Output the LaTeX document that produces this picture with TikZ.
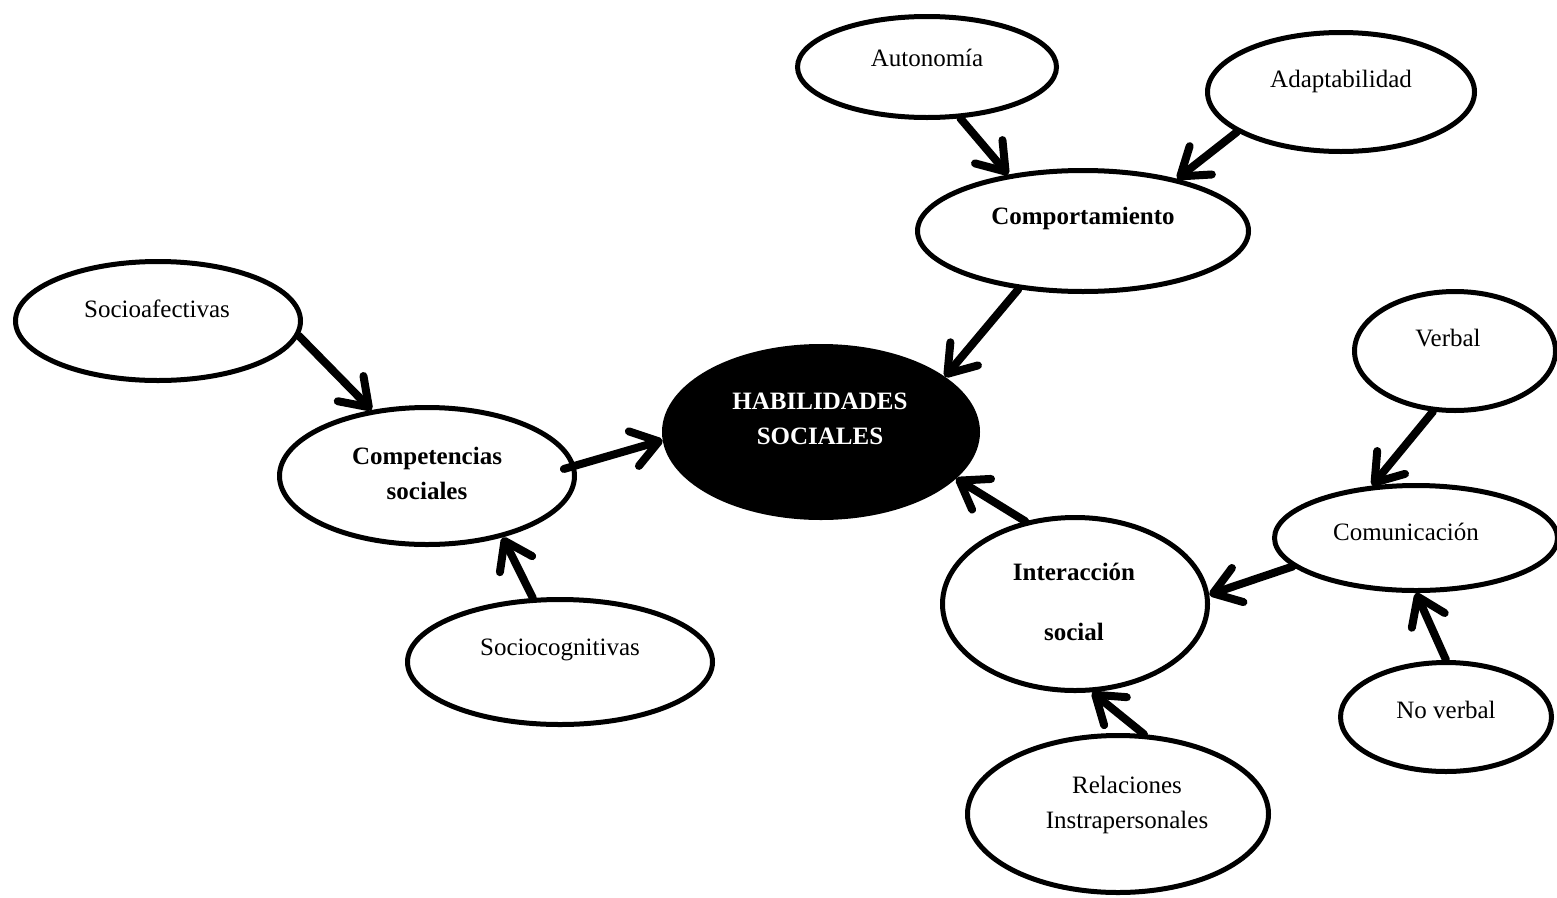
\documentclass[tikz,border=0pt]{standalone}
\usepackage{fontspec}
\setmainfont{Liberation Serif}
\usetikzlibrary{shapes.geometric,arrows.meta}
\begin{document}
\begin{tikzpicture}[x=1pt,y=-1pt,
  ell/.style={ellipse,draw=black,line width=5pt,fill=white,inner sep=0pt},
  txt/.style={inner sep=0pt,align=center,font=\fontsize{25}{35}\selectfont},
  btxt/.style={txt,font=\fontsize{25}{35}\selectfont\bfseries},
  arr/.style={line width=8pt,line cap=round,-{Straight Barb[length=26pt,width=36pt,round]}}]
\useasboundingbox[fill=white] (0,0) rectangle (1557,897);
% ellipses
\node[ell,minimum width=259pt,minimum height=101pt] (auto) at (927,67) {};
\node[ell,minimum width=267pt,minimum height=119pt] (adap) at (1341,92) {};
\node[ell,minimum width=331pt,minimum height=121pt] (comp) at (1083,231) {};
\node[ell,minimum width=285pt,minimum height=119pt] (socaf) at (158,321) {};
\node[ell,fill=black,minimum width=313pt,minimum height=171pt] (hab) at (821,432) {};
\node[ell,minimum width=295pt,minimum height=137pt] (compet) at (427,476) {};
\node[ell,minimum width=305pt,minimum height=125pt] (soccog) at (560,662) {};
\node[ell,minimum width=265pt,minimum height=173pt] (inter) at (1075,604) {};
\node[ell,minimum width=301pt,minimum height=157pt] (rel) at (1118,814) {};
\node[ell,minimum width=201pt,minimum height=119pt] (verbal) at (1455,351) {};
\node[ell,minimum width=283pt,minimum height=105pt] (comun) at (1416,538) {};
\node[ell,minimum width=211pt,minimum height=109pt] (nover) at (1446,717) {};
% texts
\node[txt] (autoT) at (927,58) {Autonomía};
\node[txt] (adapT) at (1341,81) {Adaptabilidad};
\node[btxt] (compT) at (1083,218) {Comportamiento};
\node[txt] (socafT) at (157,309) {Socioafectivas};
\node[btxt,text=white] (habT) at (820,419) {HABILIDADES\\SOCIALES};
\node[btxt] (competT) at (427,473) {Competencias\\sociales};
\node[txt] (soccogT) at (560,650) {Sociocognitivas};
\node[btxt] (interT) at (1074,602) {Interacción\\[25pt]social};
\node[txt] (relT) at (1127,805) {Relaciones\\Instrapersonales};
\node[txt] (verbalT) at (1448,338) {Verbal};
\node[txt] (comunT) at (1406,532) {Comunicación};
\node[txt] (noverT) at (1446,710) {No verbal};
% arrows
\draw[arr] (auto.-57) -- (comp.143);
\draw[arr] (adap.201) -- (comp.29);
\draw[arr] (comp.222) -- (hab.24);
\draw[arr] (socaf.-6) -- (compet.130);
\draw[arr,shorten <=-12pt] (compet.4) -- (hab.183);
\draw[arr] (soccog.113) -- (compet.-39);
\draw[arr] (inter.121) -- (hab.-19);
\draw[arr] (verbal.250) -- (comun.130);
\draw[arr] (comun.193) -- (inter.4);
\draw[arr] (nover.90) -- (comun.-90);
\draw[arr] (rel.72) -- (inter.-79);
\end{tikzpicture}
\end{document}
